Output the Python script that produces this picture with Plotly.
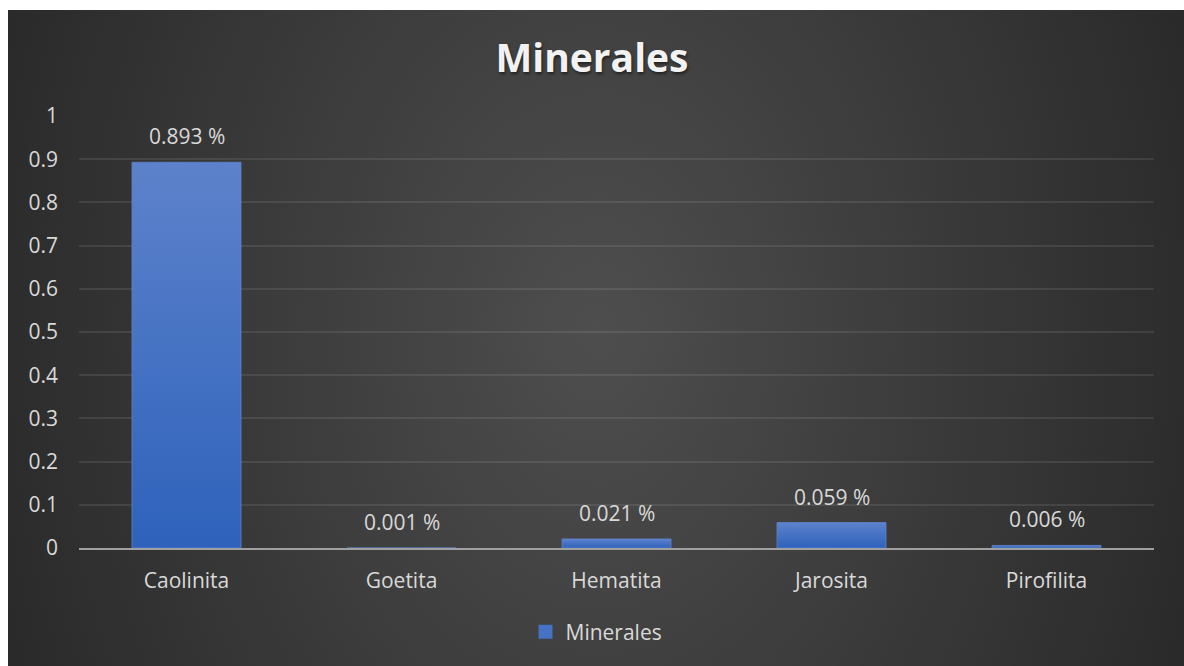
import base64
import plotly.graph_objects as go

# Mineral composition (percent values as shown on the labels)
minerales = ["Caolinita", "Goetita", "Hematita", "Jarosita", "Pirofilita"]
porcentajes = [0.893, 0.001, 0.021, 0.059, 0.006]
y_ticks = [0, 0.1, 0.2, 0.3, 0.4, 0.5, 0.6, 0.7, 0.8, 0.9, 1]

W, H = 1184, 666
L, R, T, B = 79, 30, 116, 118
plot_w = W - L - R
plot_h = H - T - B

TEXT = "#d9d9d9"
FONT = "Open Sans"
BAR_HALF = 0.2535

# Radial dark background drawn as an SVG image behind the chart
bg_svg = (
    '<svg xmlns="http://www.w3.org/2000/svg" width="1176" height="656" '
    'viewBox="0 0 1176 656" preserveAspectRatio="none">'
    '<defs><radialGradient id="g" gradientUnits="userSpaceOnUse" cx="0" cy="0" r="1" '
    'gradientTransform="translate(588 320) scale(700 966)">'
    '<stop offset="0" stop-color="#4e4e4e"/><stop offset="1" stop-color="#262626"/>'
    '</radialGradient></defs><rect width="1176" height="656" fill="url(#g)"/></svg>'
)
bg_uri = "data:image/svg+xml;base64," + base64.b64encode(bg_svg.encode()).decode()

fig = go.Figure()

# Bars with a vertical blue gradient
for i, (name, v) in enumerate(zip(minerales, porcentajes)):
    fig.add_trace(go.Scatter(
        x=[i - BAR_HALF, i + BAR_HALF, i + BAR_HALF, i - BAR_HALF, i - BAR_HALF],
        y=[0, 0, v, v, 0],
        mode="lines",
        fill="toself",
        line=dict(width=0.8, color="#5f84cc"),
        fillgradient=dict(type="vertical",
                          colorscale=[[0, "#2e62bb"], [1, "#5d82cb"]]),
        hoverinfo="skip",
        showlegend=False,
    ))

# Legend entry for the series
fig.add_trace(go.Scatter(
    x=[None], y=[None], mode="markers", name="Minerales",
    marker=dict(symbol="square", size=14, color="#4472c4"),
))

# Value labels above each bar
for i, v in enumerate(porcentajes):
    fig.add_annotation(
        x=i, y=v, text=f"{v:.3f} %", showarrow=False,
        yanchor="bottom", yshift=10,
        font=dict(family=FONT, size=21, color=TEXT),
    )

fig.update_layout(
    width=W, height=H,
    margin=dict(l=L, r=R, t=T, b=B),
    paper_bgcolor="white",
    plot_bgcolor="rgba(0,0,0,0)",
    font=dict(family=FONT, size=21, color=TEXT),
    title=dict(
        text="Minerales", x=0.5, xanchor="center", y=1 - 58 / H, yanchor="middle",
        font=dict(family=FONT, size=39, color="#f2f2f2", weight="bold",
                  shadow="1px 2px 3px rgba(0,0,0,0.5)"),
    ),
    xaxis=dict(
        range=[-0.5, 4.5], tickvals=list(range(len(minerales))), ticktext=minerales,
        showgrid=False, zeroline=False, showline=True, linecolor="#a0a0a0",
        linewidth=2, ticks="", ticklabelstandoff=13, layer="below traces",
        tickfont=dict(family=FONT, size=21, color=TEXT), fixedrange=True,
    ),
    yaxis=dict(
        range=[0, 1], tickvals=y_ticks, showgrid=True,
        gridcolor="rgba(255,255,255,0.09)", gridwidth=1.5, zeroline=False,
        showline=False, ticks="", ticklabelstandoff=20, layer="below traces",
        tickfont=dict(family=FONT, size=21, color=TEXT), fixedrange=True,
    ),
    legend=dict(
        orientation="h", x=0.5 - 20 / plot_w, xanchor="center",
        y=(548 - 632) / plot_h, yanchor="middle",
        font=dict(family=FONT, size=21, color=TEXT),
        bgcolor="rgba(0,0,0,0)",
    ),
    images=[dict(
        source=bg_uri, xref="paper", yref="paper",
        x=(8 - L) / plot_w, y=(H - B - 10) / plot_h,
        sizex=(W - 8) / plot_w, sizey=(H - 10) / plot_h,
        xanchor="left", yanchor="top", sizing="stretch", layer="below",
    )],
    showlegend=True,
)

fig.write_html("out.html")
